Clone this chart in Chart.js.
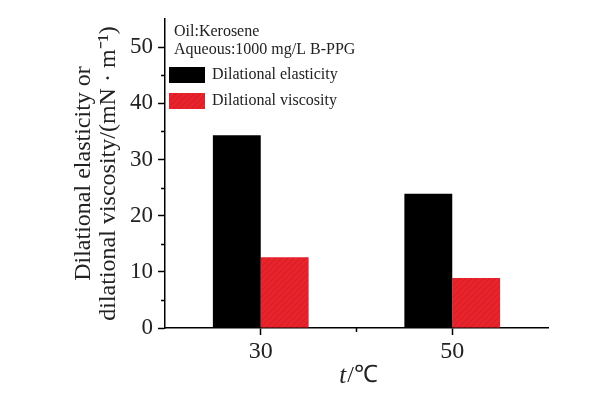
<!DOCTYPE html>
<html>
<head>
<meta charset="utf-8">
<script src="https://cdn.jsdelivr.net/npm/chart.js@4"></script>
<style>
    html, body { margin: 0; padding: 0; background: #fff; }
    #wrap { width: 607px; height: 394px; }
</style>
</head>
<body>
<div id="wrap"><canvas id="chart"></canvas></div>
<script>
// DATA
const temperatures = ['30', '50']
const elasticity = [34.3, 23.9]
const viscosity = [12.6, 8.9]
const yTicks = [0, 10, 20, 30, 40, 50]
const notes = ['Oil:Kerosene', 'Aqueous:1000 mg/L B-PPG']

const serif = '"Liberation Serif", "Times New Roman", serif'

// hatched red fill
const makeHatch = () => {
    const c = document.createElement('canvas')
    c.width = 6
    c.height = 6
    const g = c.getContext('2d')
    g.fillStyle = '#e8232b'
    g.fillRect(0, 0, 6, 6)
    g.strokeStyle = 'rgba(150, 20, 25, 0.3)'
    g.lineWidth = 1
    g.beginPath()
    g.moveTo(0, 6)
    g.lineTo(6, 0)
    g.stroke()
    return g.createPattern(c, 'repeat')
}
const hatch = makeHatch()

// minor ticks, legend, notes, x title
const extras = {
    id: 'extras',
    afterDraw(chart) {
        const ctx = chart.ctx
        const x = chart.scales.x
        const y = chart.scales.y
        ctx.save()
        ctx.strokeStyle = '#000'
        ctx.lineWidth = 1.5
        ctx.beginPath()
        for (let v = 5; v < 55; v += 10) {
            const py = Math.round(y.getPixelForValue(v)) + 0.5
            ctx.moveTo(x.left - 4, py)
            ctx.lineTo(x.left, py)
        }
        const mid = (x.getPixelForValue(0) + x.getPixelForValue(1)) / 2
        ctx.moveTo(mid, y.bottom)
        ctx.lineTo(mid, y.bottom + 4)
        ctx.stroke()

        ctx.fillStyle = '#222'
        ctx.font = `16px ${serif}`
        ctx.textBaseline = 'middle'
        ctx.textAlign = 'left'
        notes.forEach((note, i) => ctx.fillText(note, 174, 32 + i * 18))

        chart.data.datasets.forEach((ds, i) => {
            const top = 67 + i * 26
            ctx.fillStyle = ds.backgroundColor
            ctx.fillRect(169, top, 36, 16)
            ctx.fillStyle = '#222'
            ctx.fillText(ds.label, 212, top + 8)
        })

        ctx.font = `italic 25px ${serif}`
        const tW = ctx.measureText('t').width
        ctx.font = `24px ${serif}`
        const restW = ctx.measureText('/℃').width
        const startX = 358 - (tW + restW) / 2
        ctx.font = `italic 25px ${serif}`
        ctx.fillText('t', startX, 376)
        ctx.font = `24px ${serif}`
        ctx.fillText('/℃', startX + tW + 1, 376)
        ctx.restore()
    }
}

new Chart(document.getElementById('chart'), {
    type: 'bar',
    data: {
        labels: temperatures,
        datasets: [
            {
                label: 'Dilational elasticity',
                data: elasticity,
                backgroundColor: '#000000',
                borderWidth: 0,
            },
            {
                label: 'Dilational viscosity',
                data: viscosity,
                backgroundColor: hatch,
                borderWidth: 0,
            },
        ]
    },
    options: {
        responsive: true,
        maintainAspectRatio: false,
        animation: false,
        categoryPercentage: 0.5,
        barPercentage: 1,
        layout: {
            padding: { left: 0, right: 59, top: 19, bottom: 0 }
        },
        plugins: {
            legend: { display: false },
            tooltip: { enabled: false },
        },
        scales: {
            x: {
                offset: true,
                afterFit: (scale) => { scale.height = 66 },
                grid: {
                    offset: false,
                    drawOnChartArea: false,
                    drawTicks: true,
                    tickLength: 7,
                    tickWidth: 1.5,
                    tickColor: '#000',
                },
                border: { display: true, color: '#000', width: 1.5 },
                ticks: {
                    color: '#222',
                    padding: 2,
                    font: { family: serif, size: 24 },
                },
            },
            y: {
                min: 0,
                max: 55,
                afterFit: (scale) => { scale.width = 165 },
                afterBuildTicks: (scale) => {
                    scale.ticks = yTicks.map(v => ({ value: v }))
                },
                grid: {
                    drawOnChartArea: false,
                    drawTicks: true,
                    tickLength: 7,
                    tickWidth: 1.5,
                    tickColor: '#000',
                },
                border: { display: true, color: '#000', width: 1.5 },
                ticks: {
                    color: '#222',
                    padding: 5,
                    font: { family: serif, size: 23 },
                },
                title: {
                    display: true,
                    text: ['Dilational elasticity or', 'dilational viscosity/(mN · m⁻¹)'],
                    color: '#222',
                    font: { family: serif, size: 24, lineHeight: 1.05 },
                    padding: { top: 71, bottom: 0 },
                },
            }
        }
    },
    plugins: [extras],
})
</script>
</body>
</html>
